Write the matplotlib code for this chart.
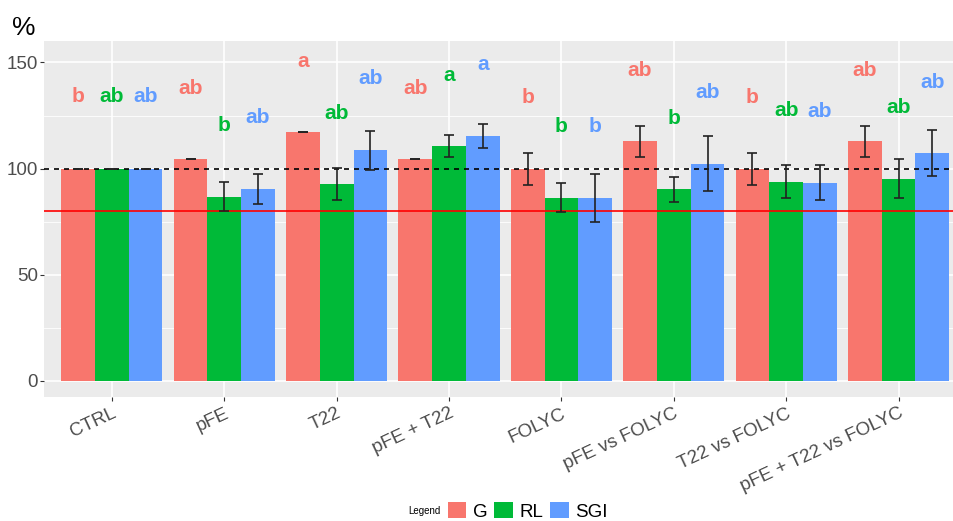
import matplotlib
matplotlib.use("Agg")
import matplotlib.pyplot as plt
from matplotlib.patches import Patch
import numpy as np

# --- Data ---
groups = ["CTRL", "pFE", "T22", "pFE + T22", "FOLYC",
          "pFE vs FOLYC", "T22 vs FOLYC", "pFE + T22 vs FOLYC"]
series = ["G", "RL", "SGI"]

g_vals = [100, 104.3, 117.3, 104.3, 100, 112.8, 100, 112.8]
g_err = [0, 0, 0, 0, 7.5, 7.5, 7.5, 7.5]
rl_vals = [100, 86.8, 92.7, 110.7, 86.3, 90.2, 93.8, 95.2]
rl_err = [0, 6.7, 7.7, 5.1, 6.7, 6.0, 7.7, 9.2]
sgi_vals = [100, 90.4, 108.7, 115.3, 86.3, 102.4, 93.4, 107.4]
sgi_err = [0, 7.1, 9.2, 5.6, 11.2, 12.8, 8.1, 10.7]

# significance letters and the height they sit at
g_letters = ["b", "ab", "a", "ab", "b", "ab", "b", "ab"]
g_letter_y = [131.2, 135.1, 148.0, 135.1, 130.7, 143.7, 130.7, 143.7]
rl_letters = ["ab", "b", "ab", "a", "b", "b", "ab", "ab"]
rl_letter_y = [131.2, 117.7, 123.4, 141.4, 117.1, 121.0, 124.8, 126.3]
sgi_letters = ["ab", "ab", "ab", "a", "b", "ab", "ab", "ab"]
sgi_letter_y = [131.2, 121.3, 139.7, 146.4, 117.1, 133.1, 124.5, 138.2]

ref_line = 100
threshold_line = 80

colors = ["#F8766D", "#00BA38", "#619CFF"]

plt.rcParams["font.family"] = ["Liberation Sans", "DejaVu Sans"]

fig = plt.figure(figsize=(9.54, 5.21), dpi=100)
ax = fig.add_axes([0.0466, 0.2386, 0.966, 0.6827])
ax.set_facecolor("#EBEBEB")

x = np.arange(len(groups))
width = 0.3
all_vals = [g_vals, rl_vals, sgi_vals]
all_err = [g_err, rl_err, sgi_err]
all_letters = [g_letters, rl_letters, sgi_letters]
all_letter_y = [g_letter_y, rl_letter_y, sgi_letter_y]

for i, (vals, err, col) in enumerate(zip(all_vals, all_err, colors)):
    pos = x + (i - 1) * width
    ax.bar(pos, vals, width=width, color=col, zorder=2, label=series[i])
    ax.errorbar(pos, vals, yerr=err, fmt="none", ecolor="#222222",
                elinewidth=1.2, capsize=3.6, capthick=1.2, zorder=4)
    for xp, lab, ly in zip(pos, all_letters[i], all_letter_y[i]):
        ax.text(xp, ly, lab, color=col, fontsize=15, fontweight="bold",
                ha="center", va="baseline", zorder=5)

ax.axhline(ref_line, color="black", linestyle=(0, (3, 3)), linewidth=1.2, zorder=3)
ax.axhline(threshold_line, color="#FF0000", linewidth=1.2, zorder=3)

ax.set_xlim(-0.6, 7.6)
ax.set_ylim(-7.4, 160.1)
ax.set_yticks([0, 50, 100, 150])
ax.set_yticks([25, 75, 125], minor=True)
ax.set_xticks(x)
ax.set_xticklabels(groups, rotation=25, ha="right", va="top", rotation_mode="anchor")

ax.grid(True, which="major", color="white", linewidth=1.2, zorder=0)
ax.grid(True, which="minor", axis="y", color="white", linewidth=0.6, zorder=0)
ax.set_axisbelow(True)
for s in ax.spines.values():
    s.set_visible(False)
ax.tick_params(axis="both", which="major", length=3, width=0.8, color="#333333",
               labelcolor="#4D4D4D")
ax.tick_params(axis="y", pad=1.5, labelsize=13.5)
ax.tick_params(axis="x", pad=3, labelsize=13.5)
ax.tick_params(which="minor", length=0)

fig.text(0.013, 0.933, "%", fontsize=19, color="black", va="baseline")

# --- Legend ---
handles = [Patch(facecolor=c, edgecolor="none") for c in colors]
fig.legend(handles, series, loc="center", bbox_to_anchor=(0.553, 0.019), ncol=3,
           frameon=False, fontsize=13.5, handlelength=1.0, handleheight=1.0,
           handletextpad=0.35, columnspacing=0.35, borderpad=0)
fig.text(0.4277, 0.019, "Legend", fontsize=7, va="center", ha="left")

fig.savefig("out.png", dpi=100)
